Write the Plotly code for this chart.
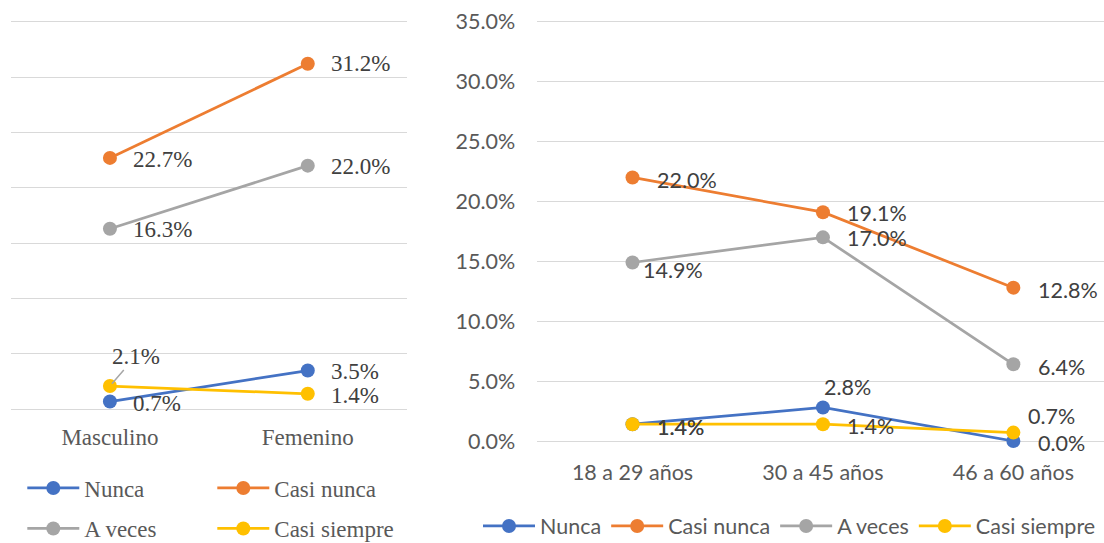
import plotly.graph_objects as go

# ---------------- data ----------------
sexo = ["Masculino", "Femenino"]
edad = ["18 a 29 años", "30 a 45 años", "46 a 60 años"]
series = ["Nunca", "Casi nunca", "A veces", "Casi siempre"]

sexo_nunca = [0.7, 3.5]
sexo_casi_nunca = [22.7, 31.2]
sexo_a_veces = [16.3, 22.0]
sexo_casi_siempre = [2.1, 1.4]

edad_nunca = [1.4, 2.8, 0.0]
edad_casi_nunca = [22.0, 19.1, 12.8]
edad_a_veces = [14.9, 17.0, 6.4]
edad_casi_siempre = [1.4, 1.4, 0.7]

y_ticks = [0, 5, 10, 15, 20, 25, 30, 35]
y_tick_labels = [f"{v:.1f}%" for v in y_ticks]

# ---------------- style ----------------
colores = ["#4472C4", "#ED7D31", "#A5A5A5", "#FFC000"]
SERIF = "Liberation Serif, Times New Roman, serif"
SANS = "Lato, Roboto, sans-serif"
SANS_SIZE = 21.5
SERIF_SIZE = 23
GRID = "#D9D9D9"
TXT = "#404040"
AXT = "#595959"
Y_MAX = 35.2  # small headroom so the 35% gridline is drawn

sexo_vals = [sexo_nunca, sexo_casi_nunca, sexo_a_veces, sexo_casi_siempre]
edad_vals = [edad_nunca, edad_casi_nunca, edad_a_veces, edad_casi_siempre]

# label offsets in pixels (dx to text left, dy downward)
sexo_off = [
    [(22, 2), (22, 1)],
    [(22, 2), (22, 0)],
    [(22, 1), (22, 1)],
    [None, (22, 2)],
]
edad_off = [
    [(23, 2.5), (0, -20), (24, 2.3)],
    [(23, 2.3), (23, 1), (24, 2)],
    [(9, 7.4), (23, 1), (24, 2.3)],
    [(23, 2.5), (23, 1.5), (14, -17)],
]

fig = go.Figure()
legend_sexo = ["legend", "legend", "legend2", "legend2"]
for i, name in enumerate(series):
    fig.add_trace(go.Scatter(
        x=sexo, y=sexo_vals[i], name=name, mode="lines+markers",
        line=dict(color=colores[i], width=2.75),
        marker=dict(color=colores[i], size=14),
        xaxis="x", yaxis="y", legend=legend_sexo[i], cliponaxis=False,
    ))
for i, name in enumerate(series):
    fig.add_trace(go.Scatter(
        x=edad, y=edad_vals[i], name=name, mode="lines+markers",
        line=dict(color=colores[i], width=2.75),
        marker=dict(color=colores[i], size=14),
        xaxis="x2", yaxis="y2", legend="legend3", cliponaxis=False,
    ))

ann = []
for i in range(4):
    for j, cat in enumerate(sexo):
        off = sexo_off[i][j]
        v = sexo_vals[i][j]
        if off is None:
            ann.append(dict(
                x=cat, y=v, xref="x", yref="y", text=f"{v:.1f}%",
                showarrow=True, arrowhead=0, arrowwidth=1.5, arrowcolor="#A6A6A6",
                ax=26, ay=-30, standoff=3,
                font=dict(family=SERIF, size=SERIF_SIZE, color=TXT)))
        else:
            ann.append(dict(
                x=cat, y=v, xref="x", yref="y", text=f"{v:.1f}%",
                showarrow=False, xanchor="left", yanchor="middle",
                xshift=off[0] - 1, yshift=-off[1],
                font=dict(family=SERIF, size=SERIF_SIZE, color=TXT)))
    for j, cat in enumerate(edad):
        off = edad_off[i][j]
        v = edad_vals[i][j]
        ann.append(dict(
            x=cat, y=v, xref="x2", yref="y2", text=f"{v:.1f}%",
            showarrow=False, xanchor="left", yanchor="middle",
            xshift=off[0] - 1, yshift=-off[1],
            font=dict(family=SANS, size=SANS_SIZE, color=TXT)))

W, H = 1104, 543
# pixel geometry of the two plot areas
L_BOT, R_BOT, TOP35 = 409.3, 441.0, 21.7
l_top = TOP35 - (Y_MAX - 35) * (L_BOT - TOP35) / 35
r_top = TOP35 - (Y_MAX - 35) * (R_BOT - TOP35) / 35

fig.update_layout(
    width=W, height=H,
    margin=dict(l=0, r=0, t=0, b=0, autoexpand=False),
    paper_bgcolor="white", plot_bgcolor="white",
    annotations=ann,
    xaxis=dict(domain=[11 / W, 406.7 / W], type="category", range=[-0.5, 1.5],
               anchor="y", showgrid=False, showline=False, zeroline=False, ticks="",
               tickfont=dict(family=SERIF, size=SERIF_SIZE, color=AXT), ticklabelstandoff=12),
    yaxis=dict(domain=[(H - L_BOT) / H, 1 - l_top / H], range=[0, Y_MAX], anchor="x",
               tickvals=y_ticks, showticklabels=False, showgrid=True,
               gridcolor=GRID, gridwidth=1.3, zeroline=True, zerolinecolor=GRID,
               zerolinewidth=1.3, showline=False),
    xaxis2=dict(domain=[537.3 / W, 1], type="category", range=[-0.5, 2.476],
                anchor="y2", showgrid=False, showline=False, zeroline=False, ticks="",
                tickfont=dict(family=SANS, size=SANS_SIZE, color=AXT), ticklabelstandoff=16),
    yaxis2=dict(domain=[(H - R_BOT) / H, 1 - r_top / H], range=[0, Y_MAX], anchor="x2",
                tickvals=y_ticks, ticktext=y_tick_labels, showgrid=True,
                gridcolor=GRID, gridwidth=1.3, zeroline=True, zerolinecolor=GRID,
                zerolinewidth=1.3, showline=False, ticks="",
                tickfont=dict(family=SANS, size=SANS_SIZE, color=AXT), ticklabelstandoff=21),
    legend=dict(orientation="h", x=22.3 / W, xanchor="left", y=1 - 488 / H, yanchor="middle",
                font=dict(family=SERIF, size=SERIF_SIZE, color=AXT), entrywidth=123,
                itemwidth=52, bgcolor="rgba(0,0,0,0)"),
    legend2=dict(orientation="h", x=22.3 / W, xanchor="left", y=1 - 528.5 / H, yanchor="middle",
                 font=dict(family=SERIF, size=SERIF_SIZE, color=AXT), entrywidth=123,
                 itemwidth=52, bgcolor="rgba(0,0,0,0)"),
    legend3=dict(orientation="h", x=478 / W, xanchor="left", y=1 - 526 / H, yanchor="middle",
                 font=dict(family=SANS, size=SANS_SIZE, color=AXT),
                 itemwidth=52, bgcolor="rgba(0,0,0,0)"),
    showlegend=True,
)

fig.write_html("out.html", config={"displayModeBar": False},
               post_script="document.body.style.margin='0';")
